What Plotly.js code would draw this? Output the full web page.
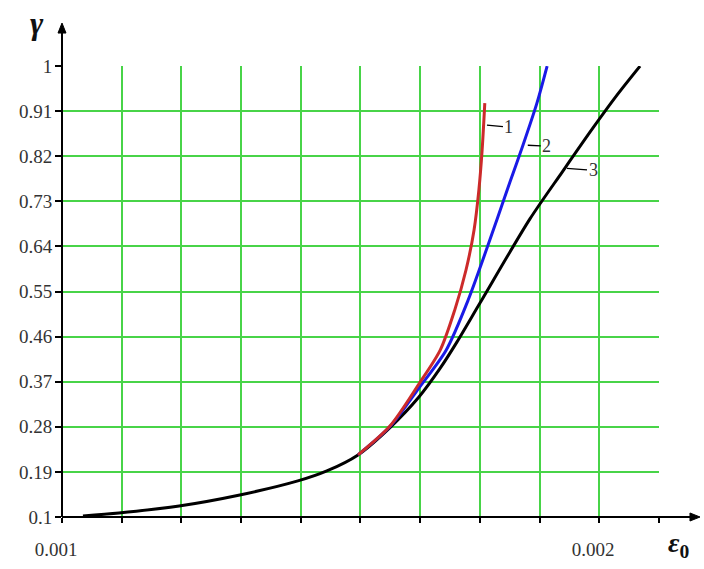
<!DOCTYPE html>
<html>
<head>
<meta charset="utf-8">
<script src="https://cdn.plot.ly/plotly-3.0.1.min.js"></script>
<style>html,body{margin:0;padding:0;background:#fff;}#chart{width:704px;height:569px;}</style>
</head>
<body>
<div id="chart"></div>
<script>
// Curve 3 (black)
const x3 = [0.001039, 0.001106, 0.001218, 0.001331, 0.001439, 0.001493, 0.001551, 0.001610, 0.001664, 0.001704, 0.001735, 0.001778, 0.001871, 0.001932, 0.001988, 0.002033, 0.002076];
const y3 = [0.102, 0.108, 0.122, 0.144, 0.172, 0.192, 0.224, 0.278, 0.339, 0.397, 0.449, 0.527, 0.695, 0.790, 0.876, 0.942, 1.000];
// Curve 2 (blue)
const x2 = [0.001551, 0.001610, 0.001664, 0.001715, 0.001756, 0.001810, 0.001834, 0.001858, 0.001884, 0.001903];
const y2 = [0.224, 0.280, 0.357, 0.433, 0.533, 0.695, 0.769, 0.842, 0.926, 1.000];
// Curve 1 (red)
const x1 = [0.001551, 0.001610, 0.001664, 0.001704, 0.001731, 0.001752, 0.001767, 0.001776, 0.001782, 0.001787];
const y1 = [0.224, 0.281, 0.365, 0.433, 0.513, 0.593, 0.673, 0.753, 0.832, 0.926];

// Axis ticks
const xTickVals = [0.001, 0.0011111, 0.0012222, 0.0013333, 0.0014444, 0.0015556, 0.0016667, 0.0017778, 0.0018889, 0.002, 0.0021111];
const xTickText = ['0.001', '', '', '', '', '', '', '', '', '0.002', ''];
const yTickVals = [0.1, 0.19, 0.28, 0.37, 0.46, 0.55, 0.64, 0.73, 0.82, 0.91, 1.0];
const yTickText = ['0.1', '0.19', '0.28', '0.37', '0.46', '0.55', '0.64', '0.73', '0.82', '0.91', '1'];

const curveLabels = ['1', '2', '3'];

const serif = 'Liberation Serif, Times New Roman, serif';
const gridGreen = '#48d448';

const traces = [
  {x: x3, y: y3, mode: 'lines', line: {color: '#000000', width: 3, shape: 'spline', smoothing: 0.8}, hoverinfo: 'skip'},
  {x: x2, y: y2, mode: 'lines', line: {color: '#1a1ae6', width: 3, shape: 'spline', smoothing: 0.8}, hoverinfo: 'skip'},
  {x: x1, y: y1, mode: 'lines', line: {color: '#cc2a2a', width: 3, shape: 'spline', smoothing: 0.8}, hoverinfo: 'skip'}
];

const labelFont = {family: serif, size: 18, color: '#333333'};
const tickFont = {family: serif, size: 19, color: '#333333'};

const layout = {
  width: 704, height: 569,
  margin: {l: 62, r: 45, t: 66, b: 52, pad: 0},
  paper_bgcolor: '#ffffff', plot_bgcolor: '#ffffff',
  showlegend: false,
  xaxis: {
    range: [0.001, 0.00211125],
    tickmode: 'array', tickvals: xTickVals, ticktext: xTickText,
    showgrid: true, gridcolor: gridGreen, gridwidth: 2,
    zeroline: false, showline: false,
    ticks: 'outside', ticklen: 5, tickwidth: 2, tickcolor: '#000',
    tickfont: tickFont,
    ticklabelstandoff: 10, ticklabelshift: -6,
    fixedrange: true
  },
  yaxis: {
    range: [0.1, 1.0002],
    tickmode: 'array', tickvals: yTickVals, ticktext: yTickText,
    showgrid: true, gridcolor: gridGreen, gridwidth: 2,
    zeroline: false, showline: false,
    ticks: 'outside', ticklen: 6, tickwidth: 2, tickcolor: '#000',
    tickfont: tickFont,
    ticklabelstandoff: -1,
    fixedrange: true
  },
  shapes: [
    {type: 'line', xref: 'paper', yref: 'paper', x0: 0, y0: 0, x1: 0, y1: 1.08, line: {color: '#000', width: 2}},
    {type: 'path', xref: 'paper', yref: 'paper', path: 'M 0 1.0953 L -0.0067 1.0731 L 0.0067 1.0731 Z', fillcolor: '#000', line: {color: '#000', width: 1}},
    {type: 'line', xref: 'paper', yref: 'paper', x0: 0, y0: 0, x1: 1.06, y1: 0, line: {color: '#000', width: 2}},
    {type: 'path', xref: 'paper', yref: 'paper', path: 'M 1.0687 0 L 1.0519 0.0089 L 1.0519 -0.0089 Z', fillcolor: '#000', line: {color: '#000', width: 1}}
  ],
  annotations: [
    {xref: 'paper', yref: 'paper', x: -0.042, y: 1.095, xanchor: 'center', yanchor: 'middle',
     text: '<b><i>γ</i></b>', showarrow: false, font: {family: serif, size: 32, color: '#111'}},
    {xref: 'paper', yref: 'paper', x: 1.0115, y: -0.062, xanchor: 'left', yanchor: 'middle',
     text: '<b><i>ε</i><sub>0</sub></b>', showarrow: false, font: {family: serif, size: 28, color: '#111'}},
    {x: 0.001791, y: 0.882, ax: 22, ay: 2, text: curveLabels[0], showarrow: true, arrowhead: 0, arrowwidth: 1.3, arrowcolor: '#000', font: labelFont, standoff: 0},
    {x: 0.001867, y: 0.842, ax: 19, ay: 1, text: curveLabels[1], showarrow: true, arrowhead: 0, arrowwidth: 1.3, arrowcolor: '#000', font: labelFont, standoff: 0},
    {x: 0.001940, y: 0.796, ax: 26, ay: 2, text: curveLabels[2], showarrow: true, arrowhead: 0, arrowwidth: 1.3, arrowcolor: '#000', font: labelFont, standoff: 0}
  ]
};

Plotly.newPlot('chart', traces, layout, {displayModeBar: false, staticPlot: true});
</script>
</body>
</html>
